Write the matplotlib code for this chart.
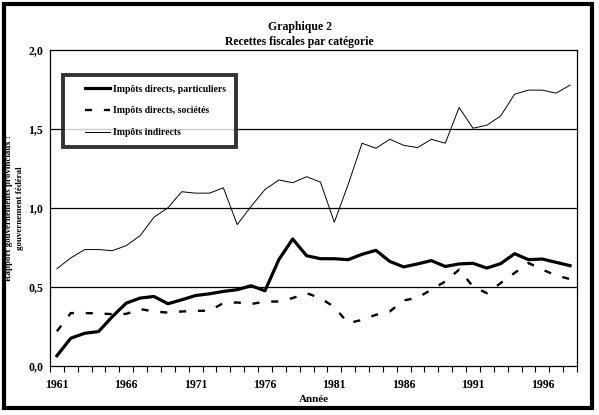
import numpy as np
import matplotlib
matplotlib.use("Agg")
from matplotlib import pyplot as plt
from matplotlib.patches import Rectangle
from matplotlib.legend_handler import HandlerLine2D

# values
years = list(range(1961, 1999))
particuliers = [0.065, 0.176, 0.207, 0.218, 0.313, 0.398, 0.430, 0.440, 0.394, 0.419,
                0.446, 0.457, 0.472, 0.483, 0.508, 0.476, 0.673, 0.804, 0.698, 0.679,
                0.679, 0.673, 0.707, 0.732, 0.662, 0.627, 0.646, 0.667, 0.630, 0.646,
                0.650, 0.620, 0.648, 0.711, 0.673, 0.677, 0.656, 0.635]
societes = [0.220, 0.335, 0.335, 0.333, 0.328, 0.330, 0.360, 0.345, 0.338, 0.345,
            0.349, 0.350, 0.398, 0.402, 0.392, 0.408, 0.408, 0.430, 0.461, 0.430,
            0.373, 0.271, 0.292, 0.324, 0.345, 0.415, 0.432, 0.483, 0.535, 0.610,
            0.503, 0.461, 0.525, 0.589, 0.652, 0.610, 0.573, 0.550]
indirects = [0.616, 0.684, 0.737, 0.737, 0.730, 0.762, 0.825, 0.942, 1.001, 1.103,
             1.094, 1.094, 1.128, 0.895, 1.010, 1.117, 1.177, 1.160, 1.198, 1.164,
             0.910, 1.149, 1.410, 1.378, 1.435, 1.397, 1.382, 1.435, 1.410, 1.636,
             1.505, 1.524, 1.583, 1.720, 1.746, 1.746, 1.727, 1.778]
labels = ["Impôts directs, particuliers", "Impôts directs, sociétés", "Impôts indirects"]
yticks = [0.0, 0.5, 1.0, 1.5, 2.0]
xticklabels = [1961, 1966, 1971, 1976, 1981, 1986, 1991, 1996]

serif = "Liberation Serif"
W, H = 599, 415
fig = plt.figure(figsize=(W / 100, H / 100), dpi=100)

# outer thick frame
fig.patches.append(Rectangle((4 / W, 7 / H), 588 / W, 404 / H, transform=fig.transFigure,
                             fill=False, edgecolor="black", linewidth=3.0))

ax = fig.add_axes([50 / W, (H - 366) / H, 527 / W, 316 / H])
x = np.arange(len(years))
ax.plot(x, particuliers, color="black", linewidth=2.3, label=labels[0])
ax.plot(x, societes, color="black", linewidth=1.7, dashes=(3, 5), label=labels[1])
ax.plot(x, indirects, color="black", linewidth=0.7, label=labels[2])

ax.set_xlim(-0.5, len(years) - 0.5)
ax.set_ylim(0, 2.0)
for v in yticks[1:-1]:
    ax.axhline(v, color="black", linewidth=0.9, zorder=0)
for s in ax.spines.values():
    s.set_linewidth(0.9)

ax.set_yticks(yticks)
ax.set_yticklabels([f"{v:.1f}".replace(".", ",") for v in yticks],
                   fontfamily=serif, fontweight="bold", fontsize=8.5)
ax.tick_params(axis="y", length=0, pad=5)

pos = [years.index(y) for y in xticklabels]
ax.set_xticks(pos)
ax.set_xticklabels([str(y) for y in xticklabels], fontfamily=serif, fontweight="bold", fontsize=8.5)
ax.set_xticks(np.arange(len(years) + 1) - 0.5, minor=True)
ax.tick_params(axis="x", which="major", length=0, pad=9)
ax.tick_params(axis="x", which="minor", length=4, width=0.8, direction="out")

ax.set_xlabel("Année", fontfamily=serif, fontweight="bold", fontsize=8, labelpad=3)
ax.set_ylabel("Rapport gouvernements provinciaux :\ngouvernement fédéral",
              fontfamily=serif, fontweight="bold", fontsize=6.5, linespacing=1.6)
ax.yaxis.set_label_coords(-0.049, 0.5)

hm = {h: HandlerLine2D(xpad=1.2) for h in ax.get_lines()}
leg = ax.legend(loc="upper left", bbox_to_anchor=(0.024, 0.922), fancybox=False,
                prop={"family": serif, "weight": "bold", "size": 7},
                handlelength=3.8, handletextpad=0.3, labelspacing=1.3,
                borderpad=1.05, borderaxespad=0, handler_map=hm)
leg.get_frame().set_edgecolor("black")
leg.get_frame().set_linewidth(2.8)

fig.text(0.5, (H - 27) / H, "Graphique 2", ha="center", va="center",
         fontfamily=serif, fontweight="bold", fontsize=8.5)
fig.text(0.5, (H - 42) / H, "Recettes fiscales par catégorie", ha="center", va="center",
         fontfamily=serif, fontweight="bold", fontsize=8.5)

fig.savefig("out.png", dpi=100)
